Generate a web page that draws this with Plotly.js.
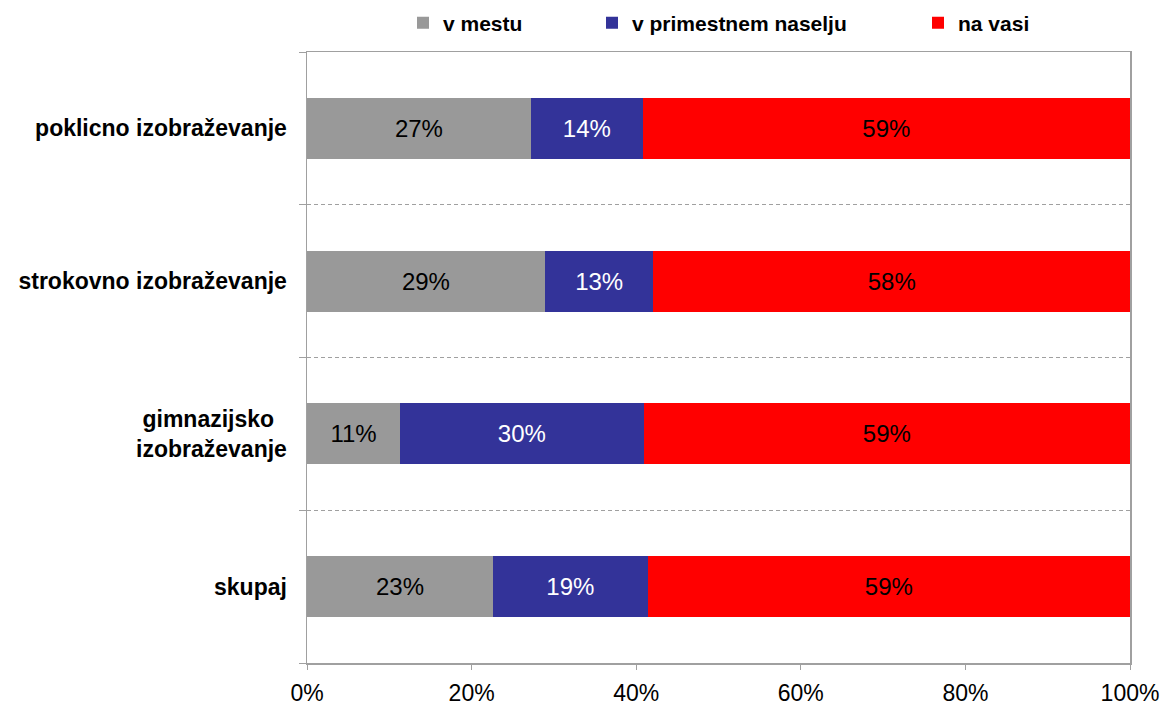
<!DOCTYPE html>
<html>
<head>
<meta charset="utf-8">
<script src="https://cdn.plot.ly/plotly-3.0.1.min.js"></script>
<style>
  html, body { margin: 0; padding: 0; background: #fff; }
  #chart { width: 1167px; height: 709px; }
</style>
</head>
<body>
<div id="chart"></div>
<script>
// Categories, top to bottom
const categories = [
  "poklicno izobraževanje",
  "strokovno izobraževanje",
  "gimnazijsko izobraževanje",
  "skupaj"
];
const categoryLabels = [
  "poklicno izobraževanje",
  "strokovno izobraževanje",
  "gimnazijsko\u00a0\u00a0<br>izobraževanje",
  "skupaj"
];
// Series values (%)
const seriesNames = ["v mestu", "v primestnem naselju", "na vasi"];
const vMestu = [27.2, 28.9, 11.3, 22.6];
const vPrimestnem = [13.6, 13.2, 29.6, 18.8];
const naVasi = [59.2, 57.9, 59.1, 58.6];
const xTicks = [0, 20, 40, 60, 80, 100];

const FONT = "Liberation Sans, Arial, sans-serif";

function barTrace(name, values, color, textColor, legendId) {
  return {
    type: "bar",
    orientation: "h",
    name: name,
    y: categories,
    x: values,
    marker: { color: color, line: { width: 0 } },
    texttemplate: "%{x:.0f}%",
    textposition: "inside",
    insidetextanchor: "middle",
    textangle: 0,
    textfont: { family: FONT, size: 24, color: textColor },
    hoverinfo: "skip",
    legend: legendId
  };
}

const data = [
  barTrace(seriesNames[0], vMestu, "#999999", "#000000", "legend"),
  barTrace(seriesNames[1], vPrimestnem, "#333399", "#ffffff", "legend2"),
  barTrace(seriesNames[2], naVasi, "#ff0000", "#000000", "legend3")
];

function legendCfg(xpx) {
  return {
    xref: "container", yref: "container",
    x: xpx / 1167, y: 1 - 23 / 709,
    xanchor: "left", yanchor: "middle",
    orientation: "h",
    bgcolor: "rgba(0,0,0,0)",
    borderwidth: 0,
    itemwidth: 30,
    font: { family: FONT, size: 21, color: "#000", weight: "bold" }
  };
}

const layout = {
  width: 1167,
  height: 709,
  margin: { l: 307, r: 37, t: 52, b: 46, pad: 0 },
  paper_bgcolor: "#ffffff",
  plot_bgcolor: "#ffffff",
  barmode: "stack",
  bargap: 0.6,
  uniformtext: { mode: false },
  showlegend: true,
  legend: legendCfg(403),
  legend2: legendCfg(592),
  legend3: legendCfg(918),
  xaxis: {
    range: [0, 100],
    tickvals: xTicks,
    ticktext: xTicks.map(v => v + "%"),
    ticks: "outside",
    ticklen: 5,
    tickcolor: "#a0a0a0",
    tickwidth: 1,
    showline: true,
    linecolor: "#a0a0a0",
    linewidth: 1.5,
    mirror: true,
    showgrid: false,
    zeroline: false,
    ticklabelstandoff: 4,
    tickfont: { family: FONT, size: 23, color: "#000" },
    fixedrange: true
  },
  yaxis: {
    type: "category",
    categoryorder: "array",
    categoryarray: categories,
    autorange: "reversed",
    tickvals: categories,
    ticktext: categoryLabels,
    tickson: "boundaries",
    ticks: "outside",
    ticklen: 7,
    tickcolor: "#a0a0a0",
    showline: true,
    linecolor: "#a0a0a0",
    linewidth: 1.5,
    mirror: true,
    showgrid: true,
    gridcolor: "#a0a0a0",
    gridwidth: 1,
    griddash: "4px,3px",
    zeroline: false,
    ticklabelstandoff: 14,
    tickfont: { family: FONT, size: 23, color: "#000", weight: "bold" },
    fixedrange: true
  }
};

Plotly.newPlot("chart", data, layout, { displayModeBar: false, staticPlot: true });
</script>
</body>
</html>
